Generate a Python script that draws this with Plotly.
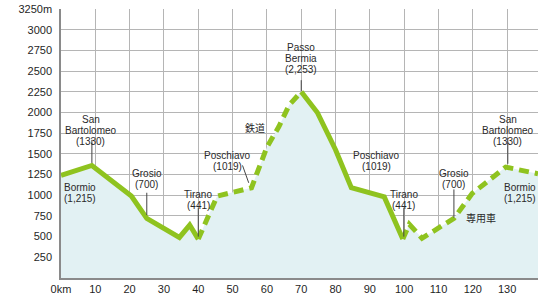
import plotly.graph_objects as go

# Route profile (km, elevation m)
km = [0, 9, 20.5, 25, 34.5, 37.5, 40, 45.5, 55.5, 60, 63.5, 66.5, 70,
      74.7, 80, 84.6, 94.2, 99.6, 101.5, 105.2, 114.5, 119.8, 129.6, 139]
elev = [1240, 1360, 990, 720, 490, 640, 470, 990, 1090, 1580, 1830, 2090, 2250,
        2000, 1550, 1090, 980, 470, 650, 480, 720, 1020, 1340, 1260]

# segment boundaries (index ranges) and style: solid = road/bus, dash = rail / private car
segments = [(0, 6, "solid"), (6, 12, "dash"), (12, 17, "solid"), (17, 23, "dash")]

x_ticks = [0, 10, 20, 30, 40, 50, 60, 70, 80, 90, 100, 110, 120, 130]
x_ticktext = ["0km", "10", "20", "30", "40", "50", "60", "70", "80", "90", "100", "110", "120", "130"]
y_ticks = [250, 500, 750, 1000, 1250, 1500, 1750, 2000, 2250, 2500, 2750, 3000, 3250]
y_ticktext = ["250", "500", "750", "1000", "1250", "1500", "1750", "2000", "2250", "2500", "2750", "3000", "3250m"]

# place labels: (lines, x_km, y_top_elev, xanchor)
place_labels = [
    (["San", "Bartolomeo", "(1330)"], 8.7, 2010, "center"),
    (["Bormio", "(1,215)"], 0.2, 1180, "left"),
    (["Grosio", "(700)"], 25, 1350, "center"),
    (["Tirano", "(441)"], 40, 1100, "center"),
    (["Poschiavo", "(1019)"], 48.5, 1570, "center"),
    (["Passo", "Bermia", "(2,253)"], 69.8, 2870, "center"),
    (["Poschiavo", "(1019)"], 91.9, 1570, "center"),
    (["Tirano", "(441)"], 99.9, 1100, "center"),
    (["Grosio", "(700)"], 114.5, 1350, "center"),
    (["San", "Bartolomeo", "(1330)"], 130.2, 2010, "center"),
    (["Bormio", "(1,215)"], 138.9, 1180, "right"),
]
leaders = [
    (9, 1670, 9, 1390), (25, 1030, 25, 760), (40, 850, 40, 500),
    (52.9, 1360, 54.7, 1150), (70, 2390, 70, 2260), (99.9, 850, 99.9, 500),
    (114.5, 1070, 114.5, 730), (130.2, 1690, 130.2, 1380),
]
notes = [("鉄道", 56.4, 1820), ("専用車", 122.4, 725)]

GREEN = "#8fc31f"
FILL = "#e2f1f3"
TXT = "#2a2a2a"

fig = go.Figure()
fig.add_trace(go.Scatter(x=km, y=elev, mode="lines", fill="tozeroy",
                         fillcolor=FILL, line=dict(width=0), hoverinfo="skip",
                         showlegend=False))
for a, b, style in segments:
    fig.add_trace(go.Scatter(
        x=km[a:b + 1], y=elev[a:b + 1], mode="lines", showlegend=False,
        line=dict(color=GREEN, width=5,
                  dash="solid" if style == "solid" else "10px,6px"),
    ))

LINE_H = 11  # px between label lines
px_per_m = 269 / 3250.0
anns = []
for lines, xk, ytop, xa in place_labels:
    for i, t in enumerate(lines):
        anns.append(dict(x=xk, y=ytop - i * LINE_H / px_per_m, text=t, showarrow=False,
                         xanchor=xa, yanchor="top", xref="x", yref="y",
                         font=dict(family="Liberation Sans, Arial", size=10, color=TXT)))
for t, xk, yk in notes:
    anns.append(dict(x=xk, y=yk, text=t, showarrow=False, xref="x", yref="y",
                     font=dict(family="Noto Sans CJK JP", size=10, color=TXT)))

shapes = [dict(type="line", xref="x", yref="y", x0=x0, y0=y0, x1=x1, y1=y1,
               line=dict(color="#444444", width=1)) for x0, y0, x1, y1 in leaders]

fig.update_layout(
    width=538, height=299,
    margin=dict(l=61, r=0, t=9, b=21),
    paper_bgcolor="white", plot_bgcolor="white",
    annotations=anns, shapes=shapes,
    xaxis=dict(range=[0, 139], tickvals=x_ticks, ticktext=x_ticktext,
               showgrid=True, gridcolor="#b5b5b5", gridwidth=1.3,
               showline=True, linecolor="#8a8a8a", linewidth=1.5,
               zeroline=False, ticks="", fixedrange=True,
               tickfont=dict(family="Liberation Sans, Arial", size=11, color="#1f1f1f")),
    yaxis=dict(range=[0, 3250], tickvals=y_ticks, ticktext=y_ticktext,
               showgrid=True, gridcolor="#b5b5b5", gridwidth=1.3,
               showline=True, linecolor="#8a8a8a", linewidth=1.5,
               zeroline=False, ticks="outside", ticklen=5, tickcolor="rgba(0,0,0,0)",
               fixedrange=True,
               tickfont=dict(family="Liberation Sans, Arial", size=11, color="#1f1f1f")),
)

fig.write_html("out.html", config={"displayModeBar": False},
               post_script="document.body.style.margin='0';document.body.style.overflow='hidden';")
